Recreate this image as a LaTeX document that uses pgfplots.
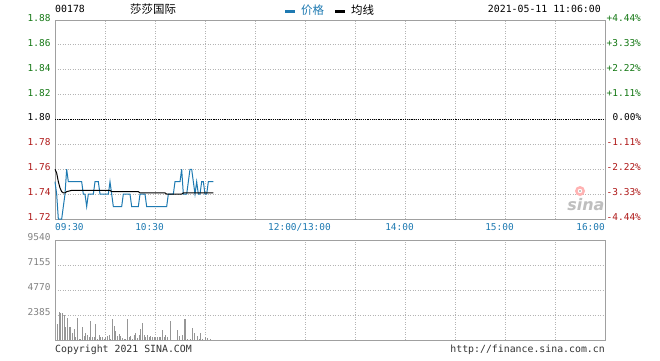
\documentclass[border=0pt]{standalone}
\usepackage{pgfplots}
\pgfplotsset{compat=1.18}
\usepackage{fontspec}
\setmainfont{DejaVu Sans Mono}
\newfontfamily\cjk{Noto Sans CJK SC}
\newfontfamily\logofont{DejaVu Sans}
\definecolor{pblue}{RGB}{30,122,178}
\definecolor{pgreen}{RGB}{20,120,20}
\definecolor{pred}{RGB}{175,25,25}
\definecolor{vgray}{RGB}{150,150,150}
\definecolor{bgray}{RGB}{160,160,160}
\definecolor{ggray}{RGB}{180,180,180}
\definecolor{lgray}{RGB}{130,130,130}
\newcommand{\tf}{\fontsize{9.5}{11}\selectfont}
\newcommand{\tfb}{\fontsize{9.9}{11}\selectfont}

\pgfplotstableread{
m p
0 1.75
1 1.74
2 1.72
3 1.72
4 1.72
5 1.73
6 1.74
7 1.76
8 1.75
9 1.75
10 1.75
11 1.75
12 1.75
13 1.75
14 1.75
15 1.75
16 1.75
17 1.74
18 1.74
19 1.73
20 1.74
21 1.74
22 1.74
23 1.74
24 1.75
25 1.75
26 1.75
27 1.74
28 1.74
29 1.74
30 1.74
31 1.74
32 1.74
33 1.75
34 1.74
35 1.73
36 1.73
37 1.73
38 1.73
39 1.73
40 1.73
41 1.74
42 1.74
43 1.74
44 1.74
45 1.74
46 1.73
47 1.73
48 1.73
49 1.73
50 1.73
51 1.74
52 1.74
53 1.74
54 1.74
55 1.73
56 1.73
57 1.73
58 1.73
59 1.73
60 1.73
61 1.73
62 1.73
63 1.73
64 1.73
65 1.73
66 1.73
67 1.73
68 1.74
69 1.74
70 1.74
71 1.74
72 1.75
73 1.75
74 1.75
75 1.75
76 1.76
77 1.74
78 1.74
79 1.74
80 1.75
81 1.76
82 1.76
83 1.75
84 1.74
85 1.75
86 1.74
87 1.74
88 1.75
89 1.75
90 1.74
91 1.74
92 1.75
93 1.75
94 1.75
95 1.75
}\price

\pgfplotstableread{
m a
0 1.760
1 1.757
2 1.750
3 1.745
4 1.742
5 1.741
6 1.741
7 1.742
10 1.743
20 1.743
33 1.743
34 1.742
50 1.742
51 1.741
66 1.741
67 1.740
76 1.740
77 1.741
95 1.741
}\avgline

\pgfplotstableread{
m v
1.4 1526
2.4 2671
3.4 2608
4.4 2544
5.4 2353
6.4 1272
7.4 2099
8.4 1208
9.4 1272
10.4 636
11.4 1018
12.4 254
13.4 2099
14.4 130
15.4 60
16.4 1272
17.4 382
18.4 636
19.4 445
20.4 254
21.4 1781
22.4 254
23.4 318
24.4 1526
25.4 130
26.4 445
27.4 254
28.4 318
29.4 130
30.4 254
31.4 382
32.4 445
33.4 130
34.4 1972
35.4 1336
36.4 890
37.4 382
38.4 572
39.4 382
40.4 190
41.4 130
42.4 60
43.4 1972
44.4 254
45.4 382
46.4 60
47.4 510
48.4 700
49.4 190
50.4 445
51.4 1018
52.4 1654
53.4 445
54.4 254
55.4 445
56.4 254
57.4 382
58.4 254
59.4 318
60.4 318
61.4 254
62.4 318
63.4 318
64.4 954
65.4 318
66.4 445
67.4 318
69.4 1781
73.4 954
74.4 382
76.4 445
77.4 2035
78.4 2035
79.4 130
81.4 130
82.4 1145
83.4 636
85.4 382
86.4 130
87.4 700
88.4 130
90.4 254
91.4 190
93.4 130
}\vol

\begin{document}
\begin{tikzpicture}[x=1bp,y=1bp]
\path[fill=white] (0,0) rectangle (660,-360);

% ---------- price axis ----------
\begin{axis}[
  at={(55bp,-219bp)}, anchor=south west,
  scale only axis, width=550bp, height=199bp,
  xmin=0, xmax=330, ymin=1.72, ymax=1.88,
  xtick={0,30,60,90,120,150,180,210,240,270,300,330},
  xticklabels={},
  ytick={1.72,1.74,1.76,1.78,1.80,1.82,1.84,1.86,1.88},
  yticklabels={\textcolor{pred}{1.72},\textcolor{pred}{1.74},\textcolor{pred}{1.76},\textcolor{pred}{1.78},\textcolor{black}{1.80},\textcolor{pgreen}{1.82},\textcolor{pgreen}{1.84},\textcolor{pgreen}{1.86},\textcolor{pgreen}{1.88}},
  yticklabel style={font=\tf, anchor=east, xshift=-1bp, yshift=2bp},
  major tick length=0pt,
  grid=major,
  major grid style={draw=ggray, line width=0.8bp, dash pattern=on 1bp off 1.5bp},
  axis line style={draw=bgray, line width=1bp},
  clip=false,
]
\addplot[black, line width=0.8bp, dash pattern=on 1.2bp off 1bp, forget plot] coordinates {(0,1.80) (330,1.80)};
\node[font=\logofont\bfseries\itshape\fontsize{16}{16}\selectfont, text=gray!50, anchor=center] at (axis cs:318.5,1.7313) {sina};
\fill[red!30] (axis cs:315,1.7425) circle (5bp);
\fill[white] (axis cs:315,1.7425) circle (2.2bp);
\fill[gray!60] (axis cs:315,1.7425) circle (1.1bp);
\addplot[pblue, line width=1bp] table[x=m, y=p] {\price};
\addplot[black, line width=1bp] table[x=m, y=a] {\avgline};
% x tick labels
\node[font=\tf, text=pblue, anchor=north west, inner sep=0pt] at (axis cs:0,1.72) [yshift=-4bp] {09:30};
\node[font=\tf, text=pblue, anchor=north, inner sep=0pt] at (axis cs:60,1.72) [yshift=-4bp, xshift=-5.5bp] {10:30};
\node[font=\tf, text=pblue, anchor=north, inner sep=0pt] at (axis cs:150,1.72) [yshift=-4bp, xshift=-5.5bp] {12:00/13:00};
\node[font=\tf, text=pblue, anchor=north, inner sep=0pt] at (axis cs:210,1.72) [yshift=-4bp, xshift=-5.5bp] {14:00};
\node[font=\tf, text=pblue, anchor=north, inner sep=0pt] at (axis cs:270,1.72) [yshift=-4bp, xshift=-5.5bp] {15:00};
\node[font=\tf, text=pblue, anchor=north east, inner sep=0pt] at (axis cs:330,1.72) [yshift=-4bp] {16:00};
% right percentage labels
\node[font=\tf, text=pgreen, anchor=west, inner sep=1.5bp] at (axis cs:330,1.88) [yshift=2bp] {+4.44\%};
\node[font=\tf, text=pgreen, anchor=west, inner sep=1.5bp] at (axis cs:330,1.86) [yshift=2bp] {+3.33\%};
\node[font=\tf, text=pgreen, anchor=west, inner sep=1.5bp] at (axis cs:330,1.84) [yshift=2bp] {+2.22\%};
\node[font=\tf, text=pgreen, anchor=west, inner sep=1.5bp] at (axis cs:330,1.82) [yshift=2bp] {+1.11\%};
\node[font=\tf, text=black, anchor=west, inner sep=1.5bp] at (axis cs:330,1.80) [yshift=2bp, xshift=6bp] {0.00\%};
\node[font=\tf, text=pred, anchor=west, inner sep=1.5bp] at (axis cs:330,1.78) [yshift=2bp] {-1.11\%};
\node[font=\tf, text=pred, anchor=west, inner sep=1.5bp] at (axis cs:330,1.76) [yshift=2bp] {-2.22\%};
\node[font=\tf, text=pred, anchor=west, inner sep=1.5bp] at (axis cs:330,1.74) [yshift=2bp] {-3.33\%};
\node[font=\tf, text=pred, anchor=west, inner sep=1.5bp] at (axis cs:330,1.72) [yshift=2bp] {-4.44\%};
\end{axis}

% ---------- volume axis ----------
\begin{axis}[
  at={(55bp,-340bp)}, anchor=south west,
  scale only axis, width=550bp, height=100bp,
  xmin=0, xmax=330, ymin=0, ymax=9540,
  xtick={0,30,60,90,120,150,180,210,240,270,300,330},
  xticklabels={},
  ytick={0,2385,4770,7155,9540},
  yticklabels={,2385,4770,7155,9540},
  yticklabel style={font=\tf, text=lgray, anchor=east, xshift=-1bp, yshift=3bp},
  scaled y ticks=false,
  major tick length=0pt,
  grid=major,
  major grid style={draw=ggray, line width=0.8bp, dash pattern=on 1bp off 1.5bp},
  axis line style={draw=bgray, line width=1bp},
]
\addplot[ycomb, draw=vgray, line width=1bp] table[x=m, y=v] {\vol};
\end{axis}

% ---------- header and footer ----------
\node[font=\tfb, anchor=west, inner sep=0pt] at (55,-9) {00178};
\node[font=\cjk\fontsize{11.5}{12}\selectfont, anchor=west, inner sep=0pt] at (130,-9) {莎莎国际};
\fill[pblue] (285,-9.5) rectangle (295,-12.5);
\node[font=\cjk\fontsize{11.5}{12}\selectfont, text=pblue, anchor=west, inner sep=0pt] at (301,-10) {价格};
\fill[black] (335,-9.5) rectangle (345,-12.5);
\node[font=\cjk\fontsize{11.5}{12}\selectfont, anchor=west, inner sep=0pt] at (351,-10) {均线};
\node[font=\tfb, anchor=east, inner sep=0pt] at (601,-9) {2021-05-11 11:06:00};
\node[font=\tfb, text=black!80, anchor=west, inner sep=0pt] at (55,-349.5) {Copyright 2021 SINA.COM};
\node[font=\tfb, text=black!80, anchor=east, inner sep=0pt] at (605,-349.5) {http://finance.sina.com.cn};
\end{tikzpicture}
\end{document}
